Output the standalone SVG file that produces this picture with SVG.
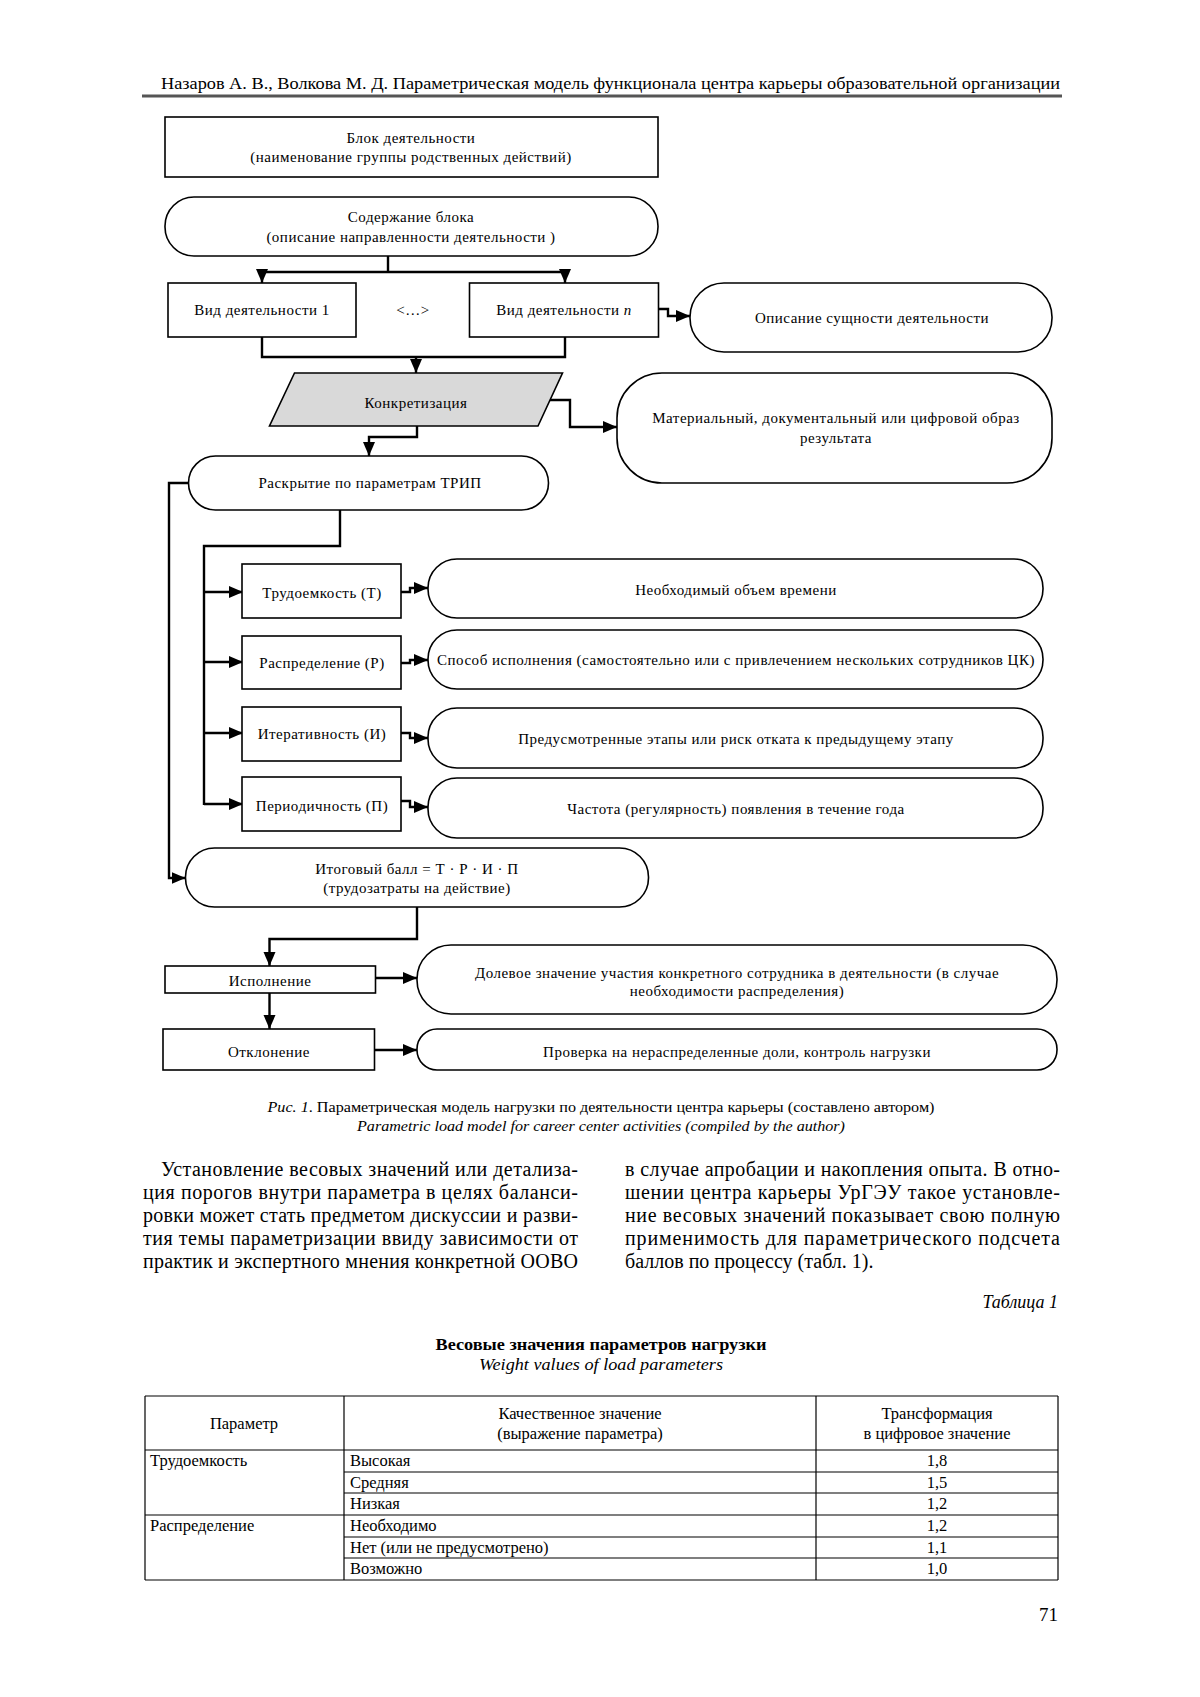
<svg xmlns="http://www.w3.org/2000/svg" width="1200" height="1697" viewBox="0 0 1200 1697">
<style>
text{font-family:"Liberation Serif","Times New Roman",serif;fill:#000}
.d{font-size:15px;text-anchor:middle;letter-spacing:0.5px}
.n{fill:#fff;stroke:#000;stroke-width:1.6}
.c{fill:none;stroke:#000;stroke-width:2.4}
.a{fill:none;stroke:#000;stroke-width:2.4;marker-end:url(#ah)}
.b{font-size:20px}
.t{font-size:16.5px}
.tl{stroke:#000;stroke-width:1.2}
</style>
<defs>
<marker id="ah" markerUnits="userSpaceOnUse" markerWidth="15" markerHeight="13" refX="14" refY="6" orient="auto">
<path d="M0,0 L14,6 L0,12 z" fill="#000"/>
</marker>
</defs>
<rect width="1200" height="1697" fill="#fff"/>
<text x="161" y="89" font-size="17" textLength="899" lengthAdjust="spacingAndGlyphs">Назаров А. В., Волкова М. Д. Параметрическая модель функционала центра карьеры образовательной организации</text>
<line x1="142" y1="96" x2="1062" y2="96" stroke="#555" stroke-width="3"/>

<g id="connectors">
<path class="c" d="M388,256 V272"/>
<path class="c" d="M262,272 H565" stroke-width="3"/>
<path class="a" d="M262,272 V283"/>
<path class="a" d="M565,272 V283"/>
<path class="a" d="M658.5,309 H668 V316 H690"/>
<path class="c" d="M262,337 V357 H565 V337"/>
<path class="a" d="M416,357 V373"/>
<path class="a" d="M549,400 H570 V427 H617"/>
<path class="a" d="M417,426 V437 H369 V456"/>
<path class="a" d="M188.5,483 H169 V878 H185.5"/>
<path class="c" d="M340,510 V546 H204 V805"/>
<path class="a" d="M204,592 H243"/>
<path class="a" d="M204,662 H243"/>
<path class="a" d="M204,733 H243"/>
<path class="a" d="M204,804 H243"/>
<path class="a" d="M401,592 H410 V588 H428"/>
<path class="a" d="M401,663 H410 V660 H428"/>
<path class="a" d="M401,733 H410 V738 H428"/>
<path class="a" d="M401,801 H410 V807 H428"/>
<path class="a" d="M417,907 V939 H269.5 V966"/>
<path class="a" d="M375.5,978 H417"/>
<path class="a" d="M269.5,993 V1029"/>
<path class="a" d="M374.5,1050 H417"/>
</g>

<g id="blok"><rect class="n" x="165" y="117" width="493" height="60"/>
<text class="d" x="411" y="143">Блок деятельности</text>
<text class="d" x="411" y="162">(наименование группы родственных действий)</text></g>

<g id="soderzhanie"><rect class="n" x="165" y="197" width="493" height="59" rx="29"/>
<text class="d" x="411" y="222">Содержание блока</text>
<text class="d" x="411" y="242">(описание направленности деятельности )</text></g>

<g id="vid1"><rect class="n" x="168" y="283" width="188" height="54"/>
<text class="d" x="262" y="315">Вид деятельности 1</text></g>

<text class="d" x="413" y="315">&lt;…&gt;</text>

<g id="vidn"><rect class="n" x="469.5" y="283" width="189" height="54"/>
<text class="d" x="564" y="315">Вид деятельности <tspan font-style="italic">n</tspan></text></g>

<g id="opisanie"><rect class="n" x="690" y="283" width="362" height="69" rx="34"/>
<text class="d" x="872" y="323">Описание сущности деятельности</text></g>

<g id="konkretizaciya"><polygon points="294.5,373 562.5,373 538,426 269.5,426" fill="#d9d9d9" stroke="#000" stroke-width="1.6"/>
<text class="d" x="416" y="408">Конкретизация</text></g>

<g id="material"><rect class="n" x="617" y="373" width="435" height="110" rx="45"/>
<text class="d" x="836" y="423">Материальный, документальный или цифровой образ</text>
<text class="d" x="836" y="443">результата</text></g>

<g id="raskrytie"><rect class="n" x="188.5" y="456" width="360" height="54" rx="27"/>
<text class="d" x="370" y="488">Раскрытие по параметрам ТРИП</text></g>

<g id="p-t"><rect class="n" x="242" y="564" width="159" height="54"/>
<text class="d" x="322" y="598">Трудоемкость (Т)</text></g>
<g id="p-r"><rect class="n" x="242" y="636" width="159" height="53"/>
<text class="d" x="322" y="668">Распределение (Р)</text></g>
<g id="p-i"><rect class="n" x="242" y="707" width="159" height="54"/>
<text class="d" x="322" y="739">Итеративность (И)</text></g>
<g id="p-p"><rect class="n" x="242" y="777" width="159" height="54"/>
<text class="d" x="322" y="811">Периодичность (П)</text></g>

<g id="d-t"><rect class="n" x="428" y="559" width="615" height="59" rx="29"/>
<text class="d" x="736" y="595">Необходимый объем времени</text></g>
<g id="d-r"><rect class="n" x="428" y="630" width="615" height="59" rx="29"/>
<text class="d" x="736" y="665" textLength="598" lengthAdjust="spacingAndGlyphs" letter-spacing="0">Способ исполнения (самостоятельно или с привлечением нескольких сотрудников ЦК)</text></g>
<g id="d-i"><rect class="n" x="428" y="708" width="615" height="60" rx="29"/>
<text class="d" x="736" y="744">Предусмотренные этапы или риск отката к предыдущему этапу</text></g>
<g id="d-p"><rect class="n" x="428" y="778" width="615" height="60" rx="29"/>
<text class="d" x="736" y="814">Частота (регулярность) появления в течение года</text></g>

<g id="itog"><rect class="n" x="185.5" y="848" width="463" height="59" rx="29"/>
<text class="d" x="417" y="874">Итоговый балл = Т · Р · И · П</text>
<text class="d" x="417" y="893">(трудозатраты на действие)</text></g>

<g id="ispolnenie"><rect class="n" x="165" y="966" width="210.5" height="27"/>
<text class="d" x="270" y="986">Исполнение</text></g>

<g id="dolevoe"><rect class="n" x="417" y="945" width="640" height="69" rx="34"/>
<text class="d" x="737" y="978">Долевое значение участия конкретного сотрудника в деятельности  (в случае</text>
<text class="d" x="737" y="996">необходимости распределения)</text></g>

<g id="otklonenie"><rect class="n" x="163" y="1029" width="211.5" height="41"/>
<text class="d" x="269" y="1057">Отклонение</text></g>

<g id="proverka"><rect class="n" x="417" y="1029" width="640" height="41" rx="20"/>
<text class="d" x="737" y="1057">Проверка на нераспределенные доли, контроль нагрузки</text></g>

<text x="601" y="1112" font-size="15" text-anchor="middle" textLength="667" lengthAdjust="spacingAndGlyphs"><tspan font-style="italic">Рис. 1</tspan>. Параметрическая модель нагрузки по деятельности центра карьеры (составлено автором)</text>
<text x="601" y="1131" font-size="15" text-anchor="middle" font-style="italic" textLength="488" lengthAdjust="spacingAndGlyphs">Parametric load model for career center activities (compiled by the author)</text>

<text class="b" x="161" y="1176" textLength="417" lengthAdjust="spacing">Установление весовых значений или детализа-</text>
<text class="b" x="143" y="1199" textLength="435" lengthAdjust="spacing">ция порогов внутри параметра в целях баланси-</text>
<text class="b" x="143" y="1222" textLength="435" lengthAdjust="spacing">ровки может стать предметом дискуссии и разви-</text>
<text class="b" x="143" y="1245" textLength="435" lengthAdjust="spacing">тия темы параметризации ввиду зависимости от</text>
<text class="b" x="143" y="1268" textLength="435" lengthAdjust="spacing">практик и экспертного мнения конкретной ООВО</text>
<text class="b" x="625" y="1176" textLength="435" lengthAdjust="spacing">в случае апробации и накопления опыта. В отно-</text>
<text class="b" x="625" y="1199" textLength="435" lengthAdjust="spacing">шении центра карьеры УрГЭУ такое установле-</text>
<text class="b" x="625" y="1222" textLength="435" lengthAdjust="spacing">ние весовых значений показывает свою полную</text>
<text class="b" x="625" y="1245" textLength="435" lengthAdjust="spacing">применимость для параметрического подсчета</text>
<text class="b" x="625" y="1268">баллов по процессу (табл. 1).</text>

<text x="1058" y="1308" font-size="18" font-style="italic" text-anchor="end">Таблица 1</text>
<text x="601" y="1350" font-size="17" font-weight="bold" text-anchor="middle" textLength="331" lengthAdjust="spacingAndGlyphs">Весовые значения параметров нагрузки</text>
<text x="601" y="1370" font-size="17" font-style="italic" text-anchor="middle" textLength="244" lengthAdjust="spacingAndGlyphs">Weight values of load parameters</text>

<g id="table">
<line class="tl" x1="145" y1="1396" x2="1058" y2="1396" stroke-width="2"/>
<line class="tl" x1="145" y1="1450" x2="1058" y2="1450"/>
<line class="tl" x1="344" y1="1472" x2="1058" y2="1472"/>
<line class="tl" x1="344" y1="1493" x2="1058" y2="1493"/>
<line class="tl" x1="145" y1="1515" x2="1058" y2="1515"/>
<line class="tl" x1="344" y1="1537" x2="1058" y2="1537"/>
<line class="tl" x1="344" y1="1558" x2="1058" y2="1558"/>
<line class="tl" x1="145" y1="1580" x2="1058" y2="1580" stroke-width="2"/>
<line class="tl" x1="145" y1="1396" x2="145" y2="1580"/>
<line class="tl" x1="344" y1="1396" x2="344" y2="1580"/>
<line class="tl" x1="816" y1="1396" x2="816" y2="1580"/>
<line class="tl" x1="1058" y1="1396" x2="1058" y2="1580"/>
<text class="t" x="244" y="1429" text-anchor="middle">Параметр</text>
<text class="t" x="580" y="1419" text-anchor="middle">Качественное значение</text>
<text class="t" x="580" y="1439" text-anchor="middle">(выражение параметра)</text>
<text class="t" x="937" y="1419" text-anchor="middle">Трансформация</text>
<text class="t" x="937" y="1439" text-anchor="middle">в цифровое значение</text>
<text class="t" x="150" y="1466">Трудоемкость</text>
<text class="t" x="350" y="1466">Высокая</text>
<text class="t" x="937" y="1466" text-anchor="middle">1,8</text>
<text class="t" x="350" y="1488">Средняя</text>
<text class="t" x="937" y="1488" text-anchor="middle">1,5</text>
<text class="t" x="350" y="1509">Низкая</text>
<text class="t" x="937" y="1509" text-anchor="middle">1,2</text>
<text class="t" x="150" y="1531">Распределение</text>
<text class="t" x="350" y="1531">Необходимо</text>
<text class="t" x="937" y="1531" text-anchor="middle">1,2</text>
<text class="t" x="350" y="1553">Нет (или не предусмотрено)</text>
<text class="t" x="937" y="1553" text-anchor="middle">1,1</text>
<text class="t" x="350" y="1574">Возможно</text>
<text class="t" x="937" y="1574" text-anchor="middle">1,0</text>
</g>

<text x="1058" y="1621" font-size="19" text-anchor="end">71</text>
</svg>
